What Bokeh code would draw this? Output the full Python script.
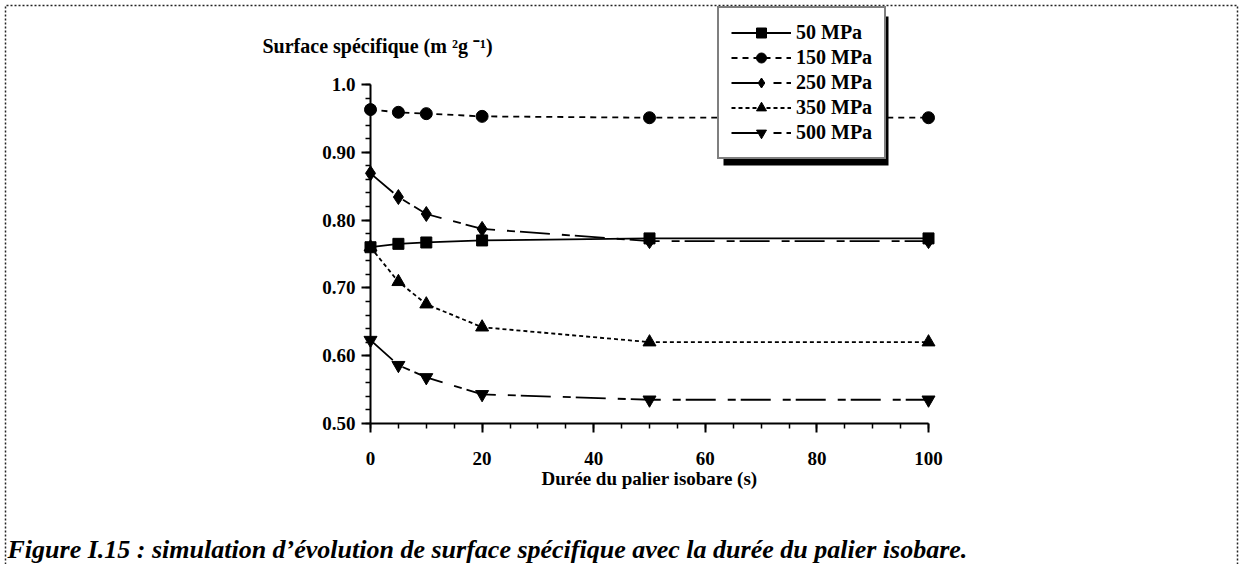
from bokeh.plotting import figure
from bokeh.models import Range1d, FixedTicker, PrintfTickFormatter, Legend, LegendItem, Label, BoxAnnotation
from bokeh.embed import file_html
from bokeh.resources import INLINE
import numpy as np

# ---- data ----
times = [0, 5, 10, 20, 50, 100]
s50 = [0.760, 0.765, 0.767, 0.770, 0.773, 0.773]
s150 = [0.963, 0.959, 0.957, 0.953, 0.951, 0.951]
s250 = [0.869, 0.834, 0.809, 0.787, 0.769, 0.769]
s350 = [0.760, 0.709, 0.676, 0.642, 0.620, 0.620]
s500 = [0.623, 0.586, 0.568, 0.543, 0.535, 0.535]
series_labels = ["50 MPa", "150 MPa", "250 MPa", "350 MPa", "500 MPa"]
x_ticks = [0, 20, 40, 60, 80, 100]
y_ticks = [0.5, 0.6, 0.7, 0.8, 0.9, 1.0]
y_tick_labels = ["0.50", "0.60", "0.70", "0.80", "0.90", "1.0"]
x_title = "Durée du palier isobare (s)"
y_title = "Surface spécifique (m ²g ⁻¹)"
caption = "Figure I.15 : simulation d’évolution de surface spécifique avec la durée du palier isobare."

FONT = "Liberation Serif"
W, H = 1239, 564
# pixel layout of the data area (page pixels)
PX_X0, PX_X100 = 370, 928
PX_Y05, PX_Y10 = 423, 84

def px2x(px):
    return (px - PX_X0) / (PX_X100 - PX_X0) * 100.0

def py2y(py):
    return 0.5 + (PX_Y05 - py) / (PX_Y05 - PX_Y10) * 0.5

p = figure(width=W, height=H, output_backend="svg", toolbar_location=None,
           x_range=Range1d(px2x(0), px2x(W)), y_range=Range1d(py2y(H), py2y(0)),
           min_border=0)
p.title.visible = False
p.outline_line_color = None
p.xgrid.visible = False
p.ygrid.visible = False
p.background_fill_color = "white"
p.border_fill_color = "white"

# axes drawn at fixed data locations inside the canvas
p.xaxis.fixed_location = 0.5
p.yaxis.fixed_location = 0
p.xaxis.bounds = (0, 100)
p.yaxis.bounds = (0.5, 1.0)
p.xaxis.ticker = FixedTicker(ticks=x_ticks, minor_ticks=list(np.arange(0, 101, 5)))
p.yaxis.ticker = FixedTicker(ticks=y_ticks, minor_ticks=list(np.round(np.arange(0.5, 1.001, 0.02), 2)))
p.yaxis.formatter = PrintfTickFormatter(format="%.2f")
p.yaxis.major_label_overrides = {t: l for t, l in zip(y_ticks, y_tick_labels)}
for ax in (p.xaxis, p.yaxis):
    ax.axis_line_width = 2
    ax.axis_line_color = "black"
    ax.major_tick_line_width = 2
    ax.major_tick_line_color = "black"
    ax.major_tick_out = 9
    ax.major_tick_in = 0
    ax.minor_tick_line_width = 1.5
    ax.minor_tick_line_color = "black"
    ax.minor_tick_out = 5
    ax.minor_tick_in = 0
    ax.major_label_text_font = FONT
    ax.major_label_text_font_style = "bold"
    ax.major_label_text_font_size = "19px"
    ax.major_label_text_color = "black"
p.xaxis.major_label_standoff = 19
p.yaxis.major_label_standoff = 6
p.xaxis.axis_label = x_title
p.xaxis.axis_label_text_font = FONT
p.xaxis.axis_label_text_font_style = "bold"
p.xaxis.axis_label_text_font_size = "19px"
p.xaxis.axis_label_text_color = "black"
p.xaxis.axis_label_standoff = 0

# dotted page border (decoration)
bx = [px2x(5), px2x(5), px2x(1237), px2x(1237)]
by = [py2y(H), py2y(5), py2y(5), py2y(H)]
p.line(bx, by, line_color="#222", line_width=1.5, line_dash="2 2")

# series
styles = [
    (s50, "solid", "square", 11),
    (s150, "6 5", "circle", 12),
    (s250, "30 12 8 5", "diamond", 15),
    (s350, "4 3", "triangle", 13),
    (s500, "30 12 8 5", "inverted_triangle", 13),
]
items = []
for (vals, dash, marker, size), lab in zip(styles, series_labels):
    lr = p.line(times, vals, line_color="black", line_width=1.8, line_dash=dash)
    sr = p.scatter(times, vals, marker=marker, size=size, fill_color="black", line_color="black")
    items.append((lab, [lr, sr]))

# legend with its drop shadow
LEG_LEFT, LEG_TOP, LEG_RIGHT, LEG_BOTTOM = 717, 10, 882, 159
p.add_layout(BoxAnnotation(left=px2x(LEG_LEFT + 6), right=px2x(LEG_RIGHT + 6),
                           top=py2y(LEG_TOP + 6), bottom=py2y(LEG_BOTTOM + 6),
                           fill_color="black", fill_alpha=1.0, line_color=None, level="overlay"))
legend = Legend(items=[LegendItem(label=l, renderers=r) for l, r in items],
                location=(LEG_LEFT, H - LEG_BOTTOM),
                orientation="vertical",
                padding=12, spacing=0, margin=0,
                glyph_width=60, glyph_height=25, label_height=25, label_standoff=5,
                label_text_font=FONT, label_text_font_style="bold", label_text_font_size="20px",
                label_text_color="black",
                border_line_color="black", border_line_width=2.5,
                background_fill_color="white", background_fill_alpha=1.0)
p.add_layout(legend, "center")

# titles
p.add_layout(Label(x=px2x(262), y=py2y(45), text=y_title,
                   text_font=FONT, text_font_style="bold", text_font_size="20px",
                   text_baseline="alphabetic", text_align="left", text_color="black"))
p.add_layout(Label(x=px2x(7), y=py2y(549), text=caption,
                   text_font=FONT, text_font_style="bold italic", text_font_size="26px",
                   text_baseline="alphabetic", text_align="left", text_color="black"))

open("out.html", "w").write(file_html(p, INLINE))
